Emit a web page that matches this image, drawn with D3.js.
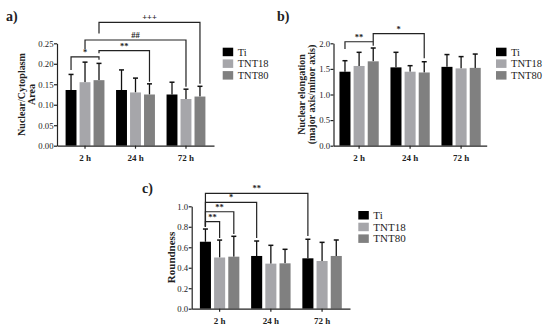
<!DOCTYPE html>
<html>
<head>
<meta charset="utf-8">
<script src="https://cdn.jsdelivr.net/npm/d3@7"></script>
<style>
  body { margin: 0; background: #fff; }
  svg { display: block; }
  text, tspan { font-family: "Liberation Serif", "Times New Roman", serif; fill: #222; }
  .axis path, .axis line { stroke: #222; stroke-width: 1.2px; }
</style>
</head>
<body>
<svg id="main-svg" width="550" height="330"></svg>
<script>
var groups = ["2 h", "24 h", "72 h"];
var series = ["Ti", "TNT18", "TNT80"];
var colors = ["#000000", "#a6a6aa", "#808080"];

// panel a : nuclear / cytoplasm area, mean and sd per series (by group)
var areaMean = [[0.136, 0.136, 0.125], [0.155, 0.130, 0.114], [0.160, 0.125, 0.120]];
var areaSd   = [[0.038, 0.049, 0.030], [0.049, 0.035, 0.024], [0.041, 0.026, 0.025]];
var areaTicks = [0, 0.05, 0.10, 0.15, 0.20, 0.25];

// panel b : nuclear elongation
var elongMean = [[1.445, 1.53, 1.54], [1.557, 1.445, 1.51], [1.648, 1.43, 1.52]];
var elongSd   = [[0.215, 0.294, 0.24], [0.267, 0.118, 0.23], [0.26, 0.21, 0.27]];
var elongTicks = [0, 0.5, 1.0, 1.5, 2.0];

// panel c : roundness
var roundMean = [[0.654, 0.515, 0.492], [0.50, 0.44, 0.466], [0.508, 0.443, 0.515]];
var roundSd   = [[0.124, 0.146, 0.186], [0.17, 0.179, 0.182], [0.199, 0.137, 0.156]];
var roundTicks = [0, 0.2, 0.4, 0.6, 0.8, 1.0];

// significance brackets: [group, series] ends, level and drop ends in data units
var areaSig = [
  {a: [0, 0], b: [0, 2], level: 0.217, endA: 0.185, endB: 0.210, label: "*"},
  {a: [0, 2], b: [1, 2], level: 0.232, endA: 0.226, endB: 0.156, label: "**"},
  {a: [0, 1], b: [2, 1], level: 0.258, endA: 0.236, endB: 0.144, label: "##"},
  {a: [0, 2], b: [2, 2], level: 0.301, endA: 0.274, endB: 0.151, label: "+++"}
];
var elongSig = [
  {a: [0, 0], b: [0, 2], level: 2.03, endA: 1.89, endB: 1.95, label: "**"},
  {a: [0, 2], b: [1, 2], level: 2.19, endA: 2.03, endB: 1.71, label: "*"}
];
var roundSig = [
  {a: [0, 0], b: [0, 1], level: 0.85, endA: 0.80, endB: 0.69, label: "**"},
  {a: [0, 0], b: [0, 2], level: 0.947, endA: 0.80, endB: 0.73, label: "**"},
  {a: [0, 0], b: [1, 0], level: 1.039, endA: 0.80, endB: 0.69, label: "*"},
  {a: [0, 0], b: [2, 0], level: 1.127, endA: 0.80, endB: 0.71, label: "**"}
];

var svg = d3.select("#main-svg");

function drawPanel(p) {
  var g = svg.append("g");

  var x = d3.scaleBand().domain(groups).range([p.x0, p.x1])
      .paddingInner(0.23).paddingOuter(p.outer);
  var xs = d3.scaleBand().domain(series).range([0, x.bandwidth()])
      .paddingInner(0.22).paddingOuter(0);
  var y = d3.scaleLinear().domain(p.domain).range([p.yBot, p.yTop]);

  // bars + error bars
  series.forEach(function(s, si) {
    groups.forEach(function(gr, gi) {
      var m = p.mean[si][gi], sd = p.sd[si][gi];
      var bx = x(gr) + xs(s);
      var cx = bx + xs.bandwidth() / 2;
      g.append("line")
        .attr("x1", cx).attr("x2", cx)
        .attr("y1", y(m)).attr("y2", y(m + sd))
        .attr("stroke", "#111").attr("stroke-width", 1.3);
      g.append("line")
        .attr("x1", cx - 2.5).attr("x2", cx + 2.5)
        .attr("y1", y(m + sd)).attr("y2", y(m + sd))
        .attr("stroke", "#111").attr("stroke-width", 1.5);
      g.append("rect")
        .attr("x", bx).attr("width", xs.bandwidth())
        .attr("y", y(m)).attr("height", y(0) - y(m))
        .attr("fill", colors[si]);
    });
  });

  // axes
  var ya = g.append("g").attr("class", "axis")
      .attr("transform", "translate(" + p.x0 + ",0)")
      .call(d3.axisLeft(y).tickValues(p.ticks).tickSize(3).tickSizeOuter(0).tickPadding(0.5)
        .tickFormat(d3.format(p.fmt)))
      .attr("font-family", null);
  ya.selectAll("text").style("font-size", "8.7px");

  var xa = g.append("g").attr("class", "axis")
      .attr("transform", "translate(0," + p.yBot + ")")
      .call(d3.axisBottom(x).tickSize(3).tickSizeOuter(0))
      .attr("font-family", null);
  xa.selectAll("text").style("font-size", "9px").style("font-weight", "bold").attr("dy", "1.05em");

  // y label
  var lab = g.append("text")
      .attr("transform", "translate(" + p.labX + "," + ((p.yTop + p.yBot) / 2) + ") rotate(-90)")
      .attr("text-anchor", "middle")
      .style("font-size", p.labSize + "px").style("font-weight", "bold");
  p.label.forEach(function(t, i) {
    lab.append("tspan").attr("x", 0).attr("dy", i == 0 ? 0 : "1.0em").text(t);
  });

  // panel letter
  g.append("text").attr("x", p.letterX).attr("y", p.letterY)
    .style("font-size", "14px").style("font-weight", "bold").text(p.letter);

  // significance brackets
  function cxOf(ref) {
    return x(groups[ref[0]]) + xs(series[ref[1]]) + xs.bandwidth() / 2;
  }
  p.sig.forEach(function(b) {
    var xa1 = cxOf(b.a), xb1 = cxOf(b.b);
    g.append("path")
      .attr("d", "M" + xa1 + "," + y(b.endA) + "V" + y(b.level) + "H" + xb1 + "V" + y(b.endB))
      .attr("fill", "none").attr("stroke", "#222").attr("stroke-width", 1.2);
    g.append("text")
      .attr("x", (xa1 + xb1) / 2).attr("y", y(b.level) - 2)
      .attr("text-anchor", "middle")
      .style("font-size", "8.5px").style("font-weight", "bold")
      .text(b.label);
  });

  // legend
  series.forEach(function(s, si) {
    var ly = p.legY + si * 11.7;
    g.append("rect").attr("x", p.legX).attr("y", ly)
      .attr("width", 10.5).attr("height", 8.5).attr("fill", colors[si]);
    g.append("text").attr("x", p.legX + 15).attr("y", ly + 8)
      .style("font-size", p.legSize + "px").text(s);
  });
}

drawPanel({
  mean: areaMean, sd: areaSd, ticks: areaTicks, domain: [0, 0.25], fmt: ".2f", sig: areaSig,
  x0: 57, x1: 214, outer: 0.17, yTop: 43.3, yBot: 145.7,
  label: ["Nuclear/Cytoplasm", "Area"], labX: 25, labSize: 10,
  letter: "a)", letterX: 6, letterY: 21, legX: 222.7, legY: 47.7, legSize: 10.5
});
drawPanel({
  mean: elongMean, sd: elongSd, ticks: elongTicks, domain: [0, 2], fmt: ".1f", sig: elongSig,
  x0: 333.5, x1: 486.7, outer: 0.117, yTop: 43.3, yBot: 145.7,
  label: ["Nuclear elongation", "(major axis/minor axis)"], labX: 305, labSize: 10,
  letter: "b)", letterX: 277, letterY: 21, legX: 496, legY: 47.7, legSize: 10.5
});
drawPanel({
  mean: roundMean, sd: roundSd, ticks: roundTicks, domain: [0, 1], fmt: ".1f", sig: roundSig,
  x0: 191.7, x1: 350, outer: 0.16, yTop: 206.3, yBot: 308.7,
  label: ["Roundness"], labX: 175, labSize: 11,
  letter: "c)", letterX: 142, letterY: 193, legX: 358.3, legY: 211, legSize: 11
});
</script>
</body>
</html>
